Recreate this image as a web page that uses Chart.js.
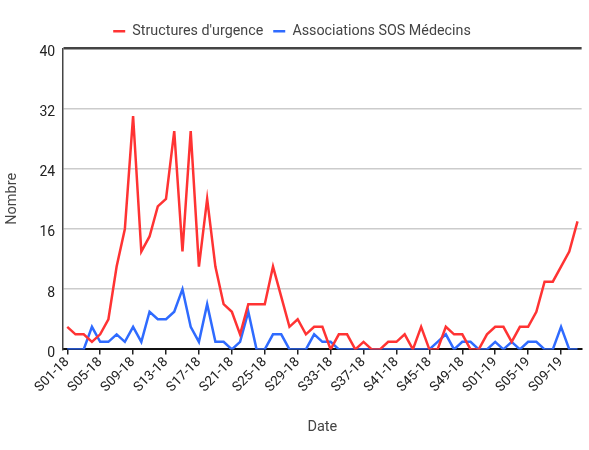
<!DOCTYPE html>
<html>
<head>
<meta charset="utf-8">
<script src="https://cdn.jsdelivr.net/npm/chart.js@4"></script>
<style>
html,body{margin:0;padding:0;background:#fff;}
#wrap{width:589px;height:450px;position:relative;}
</style>
</head>
<body>
<div id="wrap"><canvas id="c"></canvas></div>
<script>
const weeks2018 = [];
for (let w = 1; w <= 52; w++) weeks2018.push('S' + String(w).padStart(2, '0') + '-18');
const weeks2019 = [];
for (let w = 1; w <= 11; w++) weeks2019.push('S' + String(w).padStart(2, '0') + '-19');
const categories = weeks2018.concat(weeks2019);

const urgences = [3,2,2,1,2,4,11,16,31,13,15,19,20,29,13,29,11,20,
  11,6,5,2,6,6,6,11,7,3,4,2,3,3,0,2,2,0,1,0,0,1,
  1,2,0,3,0,0,3,2,2,0,0,2,3,3,1,3,3,5,9,9,11,13,17];
const sosMedecins = [0,0,0,3,1,1,2,1,3,1,5,4,4,5,8,3,1,6,
  1,1,0,1,5,0,0,2,2,0,0,0,2,1,1,0,0,0,0,0,0,0,
  0,0,0,0,0,1,2,0,1,1,0,0,1,0,1,0,1,1,0,0,3,0,0];
const yTicks = [0, 8, 16, 24, 32, 40];

const FONT = 'Roboto, "Liberation Sans", Arial, sans-serif';

new Chart(document.getElementById('c'), {
  type: 'line',
  data: {
    labels: categories,
    datasets: [
      {label: "Structures d'urgence", data: urgences, borderColor: '#ff3333', backgroundColor: '#ff3333',
       borderWidth: 2.5, pointRadius: 0, tension: 0, pointStyle: 'line'},
      {label: 'Associations SOS Médecins', data: sosMedecins, borderColor: '#2f6bff', backgroundColor: '#2f6bff',
       borderWidth: 2.5, pointRadius: 0, tension: 0, pointStyle: 'line'}
    ]
  },
  options: {
    responsive: true,
    maintainAspectRatio: false,
    animation: false,
    layout: {padding: {top: 14, right: 5, left: 0, bottom: 10}},
    plugins: {
      legend: {
        position: 'top',
        labels: {usePointStyle: true, pointStyleWidth: 12, boxHeight: 10, boxWidth: 12, padding: 10,
                 color: '#444', font: {family: FONT, size: 14.3}}
      },
      tooltip: {enabled: false}
    },
    scales: {
      x: {
        offset: true,
        grid: {
          offset: false, drawOnChartArea: false, drawTicks: true, tickLength: 5,
          color: ctx => (ctx.index % 4 === 0 ? '#222' : 'rgba(0,0,0,0)'), lineWidth: 1.5
        },
        border: {color: '#111', width: 2},
        ticks: {
          autoSkip: false, maxRotation: 45, minRotation: 45, color: '#222', padding: 0,
          font: {family: FONT, size: 13.5},
          callback: function(v, i) { return i % 4 === 0 ? categories[i] : ''; }
        },
        title: {display: true, text: 'Date', color: '#444', font: {family: FONT, size: 14.5}, padding: {top: 23}}
      },
      y: {
        min: 0, max: 40,
        afterBuildTicks: axis => { axis.ticks = yTicks.map(v => ({value: v})); },
        grid: {
          drawTicks: false,
          color: ctx => (ctx.tick && ctx.tick.value === 40 ? '#444' : (ctx.tick && ctx.tick.value === 0 ? 'rgba(0,0,0,0)' : '#cccccc')),
          lineWidth: ctx => (ctx.tick && ctx.tick.value === 40 ? 2.5 : 1.5)
        },
        border: {color: '#444', width: 1.5},
        ticks: {color: '#222', padding: 8, labelOffset: 4, font: {family: FONT, size: 14}},
        title: {display: true, text: 'Nombre', color: '#444', font: {family: FONT, size: 14.5}, padding: {bottom: 10}}
      }
    }
  }
});
</script>
</body>
</html>
